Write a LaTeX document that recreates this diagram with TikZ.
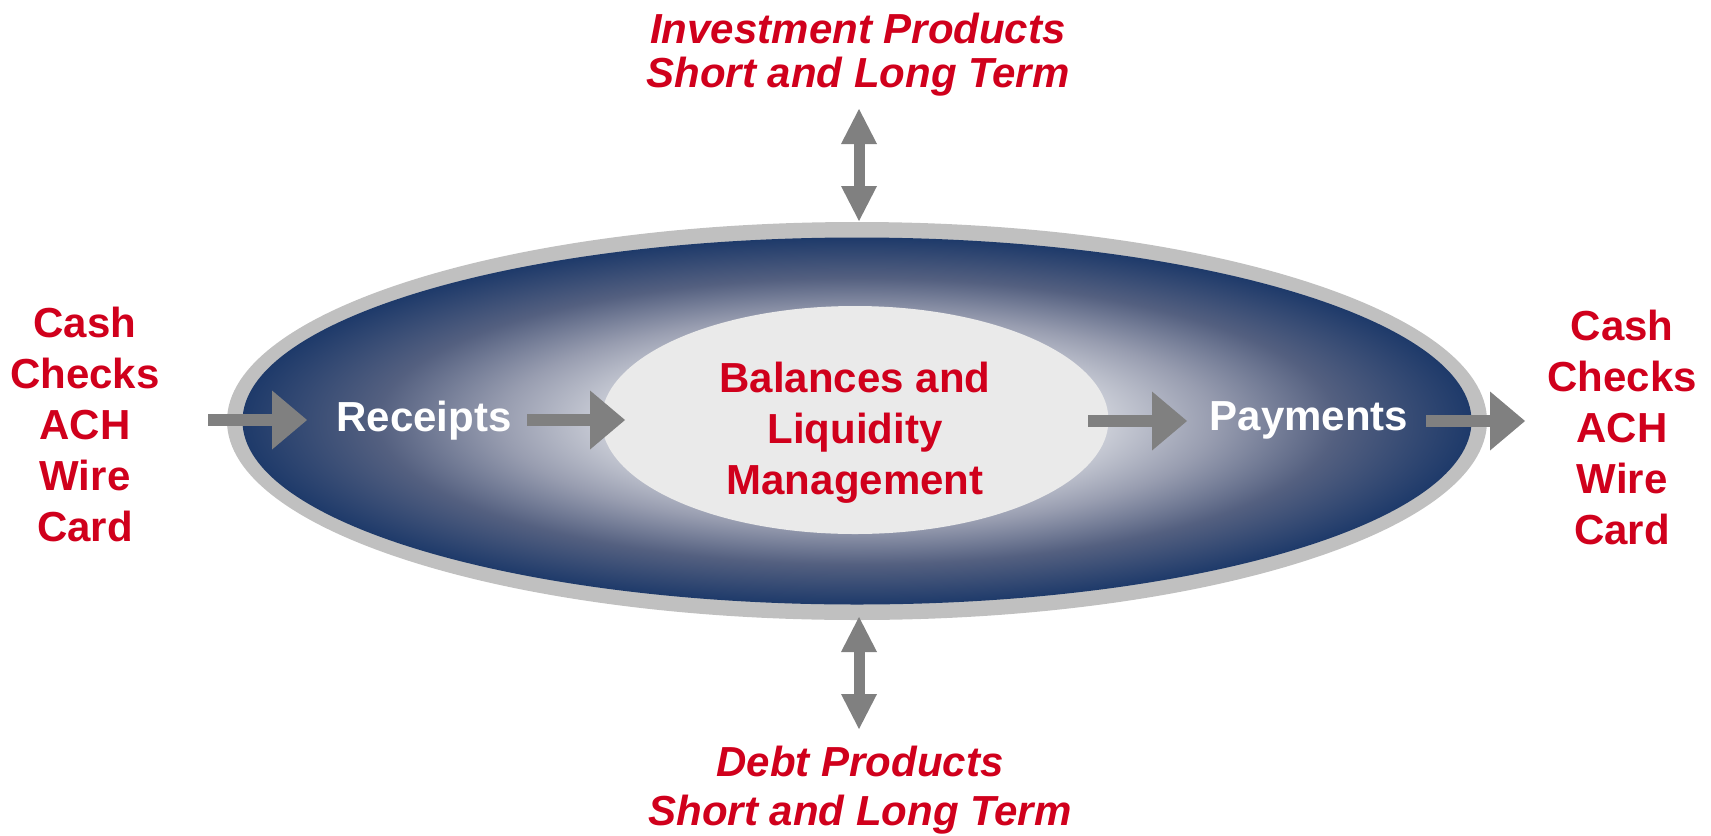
\documentclass[tikz,border=0pt]{standalone}
\usepackage{fontspec}
\setmainfont{Liberation Sans}
\usetikzlibrary{arrows.meta}
\definecolor{tred}{RGB}{208,0,28}
\definecolor{navy}{RGB}{30,58,106}
\definecolor{ringgray}{RGB}{192,192,192}
\definecolor{coregray}{RGB}{234,234,234}
\definecolor{arrowgray}{RGB}{128,128,128}
\definecolor{gA}{RGB}{240,240,243}
\definecolor{gB}{RGB}{204,207,216}
\definecolor{gC}{RGB}{152,157,176}
\definecolor{gD}{RGB}{84,96,128}
\pgfdeclareradialshading{glow}{\pgfpointorigin}{color(0bp)=(gA); color(10bp)=(gB); color(14.5bp)=(gC); color(19.5bp)=(gD); color(25bp)=(navy); color(50bp)=(navy)}
\begin{document}
\begin{tikzpicture}[x=0.5pt,y=-0.5pt,
  fatarrow/.style={draw=arrowgray, line width=6pt,
    -{Triangle[length=17.5pt,width=29.5pt,line width=0pt]}},
  dblarrow/.style={draw=arrowgray, line width=5.5pt,
    {Triangle[length=17.5pt,width=18pt,line width=0pt]}-{Triangle[length=17.5pt,width=18pt,line width=0pt]}},
  redlbl/.style={text=tred, font=\bfseries\fontsize{21}{25.5}\selectfont, align=center, inner sep=0pt, anchor=base},
  italbl/.style={text=tred, font=\bfseries\itshape\fontsize{21}{22}\selectfont, align=center, inner sep=0pt, anchor=base},
  whitelbl/.style={text=white, font=\bfseries\fontsize{21}{25.5}\selectfont, inner sep=0pt, anchor=base}]
\useasboundingbox (0,0) rectangle (1711,835);
% outer ring and shaded body
\fill[ringgray] (857,421) ellipse [x radius=315pt, y radius=99.5pt];
\shade[shading=glow] (857,421) ellipse [x radius=307.25pt, y radius=91.75pt];
% inner core
\fill[coregray] (855,420) ellipse [x radius=126.75pt, y radius=57pt];
% labels (anchor = baseline of last line)
\node[redlbl] (inleft) at (85,541) {Cash\\Checks\\ACH\\Wire\\Card};
\node[redlbl] (outright) at (1622,544) {Cash\\Checks\\ACH\\Wire\\Card};
\node[italbl] (invest) at (858,87) {Investment Products\\Short and Long Term};
\node[italbl, font=\bfseries\itshape\fontsize{21}{24.5}\selectfont] (debt) at (860,825) {Debt Products\\Short and Long Term};
\node[whitelbl] (receipts) at (424,431) {Receipts};
\node[whitelbl] (payments) at (1309,430) {Payments};
\node[redlbl] (balances) at (855,494) {Balances and\\Liquidity\\Management};
% arrow end points
\coordinate (a1s) at (208,420); \coordinate (a1e) at (307,420);
\coordinate (a2s) at (527,420); \coordinate (a2e) at (625,420);
\coordinate (a3s) at (1088,421); \coordinate (a3e) at (1187,421);
\coordinate (a4s) at (1426,421); \coordinate (a4e) at (1525,421);
\coordinate (vts) at (859,109); \coordinate (vte) at (859,221);
\coordinate (vbs) at (859,617); \coordinate (vbe) at (859,729);
\draw[fatarrow] (a1s) -- (a1e);
\draw[fatarrow] (a2s) -- (a2e);
\draw[fatarrow] (a3s) -- (a3e);
\draw[fatarrow] (a4s) -- (a4e);
\draw[dblarrow] (vts) -- (vte);
\draw[dblarrow] (vbs) -- (vbe);
\end{tikzpicture}
\end{document}
